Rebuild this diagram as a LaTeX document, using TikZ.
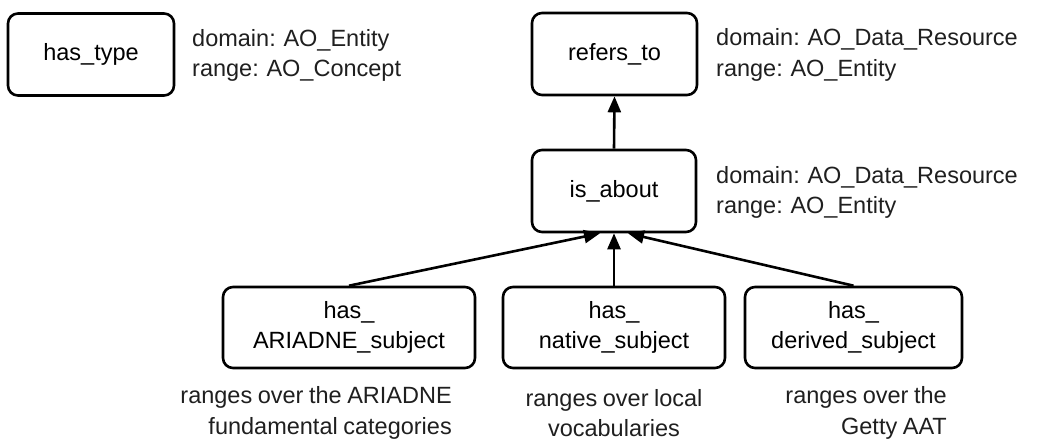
\documentclass[tikz,border=0pt]{standalone}
\usepackage{fontspec}
\setmainfont[WordSpace={0.85,0.5,0.3}]{Liberation Sans}
\usetikzlibrary{arrows.meta}
\begin{document}
\begin{tikzpicture}[x=1pt,y=-1pt,
  font=\fontsize{23.5}{30.5}\selectfont,
  prop/.style={draw=black, line width=2.6pt, rounded corners=10pt,
    minimum height=82pt, align=center, inner sep=0pt},
  note/.style={inner sep=0pt, text=black!88},
  arr/.style={line width=2.6pt, -{Triangle[length=16pt,width=13pt]}}]
  \useasboundingbox (0,0) rectangle (1038,440);

  % property boxes
  \node[prop, minimum width=166pt] (hastype) at (91,54.5) {has\_type};
  \node[prop, minimum width=165pt] (refers) at (614.5,54) {refers\_to};
  \node[prop, minimum width=164pt] (isabout) at (614,191) {is\_about};
  \node[prop, minimum width=252pt, minimum height=81pt] (ariadne) at (349,327.5) {has\_\\ARIADNE\_subject};
  \node[prop, minimum width=222pt, minimum height=81pt] (native) at (614,327.5) {has\_\\native\_subject};
  \node[prop, minimum width=217pt, minimum height=81pt] (derived) at (853.5,327.5) {has\_\\derived\_subject};

  % domain / range notes
  \node[note, anchor=west, align=left] (nt1) at (192,55.5) {domain: AO\_Entity\\range: AO\_Concept};
  \node[note, anchor=west, align=left] (nt2) at (716,55) {domain: AO\_Data\_Resource\\range: AO\_Entity};
  \node[note, anchor=west, align=left] (nt3) at (716,192.5) {domain: AO\_Data\_Resource\\range: AO\_Entity};

  % notes under the subproperties
  \node[note, anchor=east, align=right] (nb1) at (452,413) {ranges over the ARIADNE\\fundamental categories};
  \node[note, align=center] (nb2) at (614,413) {ranges over local\\vocabularies};
  \node[note, anchor=east, align=right] (nb3) at (947,413) {ranges over the\\Getty AAT};

  % subproperty arrows
  \coordinate (inL) at ([xshift=-14pt]isabout.south);
  \coordinate (inR) at ([xshift=14pt]isabout.south);
  \draw[arr] (isabout.north) -- (refers.south);
  \draw[arr] (ariadne.north) -- (inL);
  \draw[arr] (native.north) -- (isabout.south);
  \draw[arr] (derived.north) -- (inR);
\end{tikzpicture}
\end{document}
